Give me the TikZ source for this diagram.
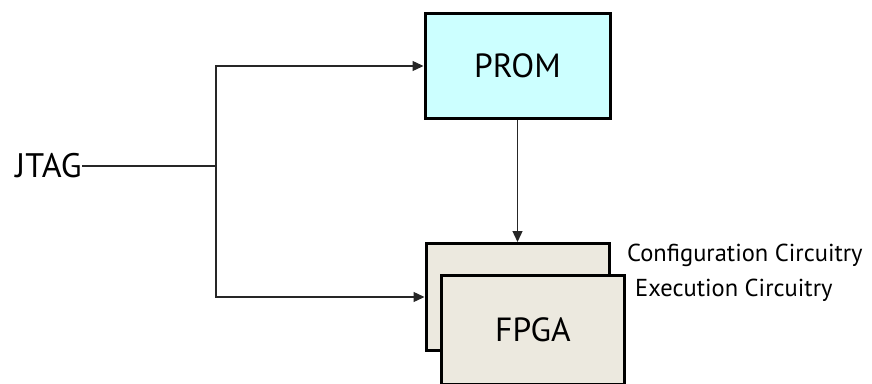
\documentclass[tikz,border=0pt]{standalone}
\usepackage{fontspec}
\setmainfont{PT Sans}
\usetikzlibrary{arrows.meta}

\definecolor{promcyan}{HTML}{CCFFFF}
\definecolor{fpgabeige}{HTML}{ECE9DF}

\tikzset{
    block/.style = {draw, line width=3pt, inner sep=0pt, font=\fontsize{33.5}{38}\selectfont},
    wire/.style  = {line width=1.3pt, draw=black!85},
    sidelabel/.style = {anchor=west, inner sep=0pt, font=\fontsize{24.5}{28}\selectfont}
}

\begin{document}
\begin{tikzpicture}[x=1pt, y=-1pt, >={Triangle[length=11pt,width=10pt]}]
    \clip (0,0) rectangle (872,383);

    \begin{scope}
        \node[block, fill=promcyan, minimum width=185pt, minimum height=105pt] (prom) at (517.5, 66) {PROM};
        \node[block, fill=fpgabeige, minimum width=183pt, minimum height=107pt] (cfg) at (517.5, 297) {};
        \node[block, fill=fpgabeige, minimum width=183pt, minimum height=109pt] (fpga) at (533, 330) {FPGA};
    \end{scope}

    \node[anchor=east, inner sep=0pt, font=\fontsize{34}{38}\selectfont] (jtag) at (82, 166) {JTAG};
    \node[sidelabel] (cfglabel) at (627, 255) {Configuration Circuitry};
    \node[sidelabel] (exelabel) at (635, 290) {Execution Circuitry};

    \coordinate (split) at (216, 166);

    \draw[wire] (jtag.east) -- (split);
    \draw[wire, ->] (split) |- (prom.west);
    \draw[wire, ->] (split) |- (cfg.west);
    \draw[wire, ->] (prom.south) -- (cfg.north);
\end{tikzpicture}
\end{document}
